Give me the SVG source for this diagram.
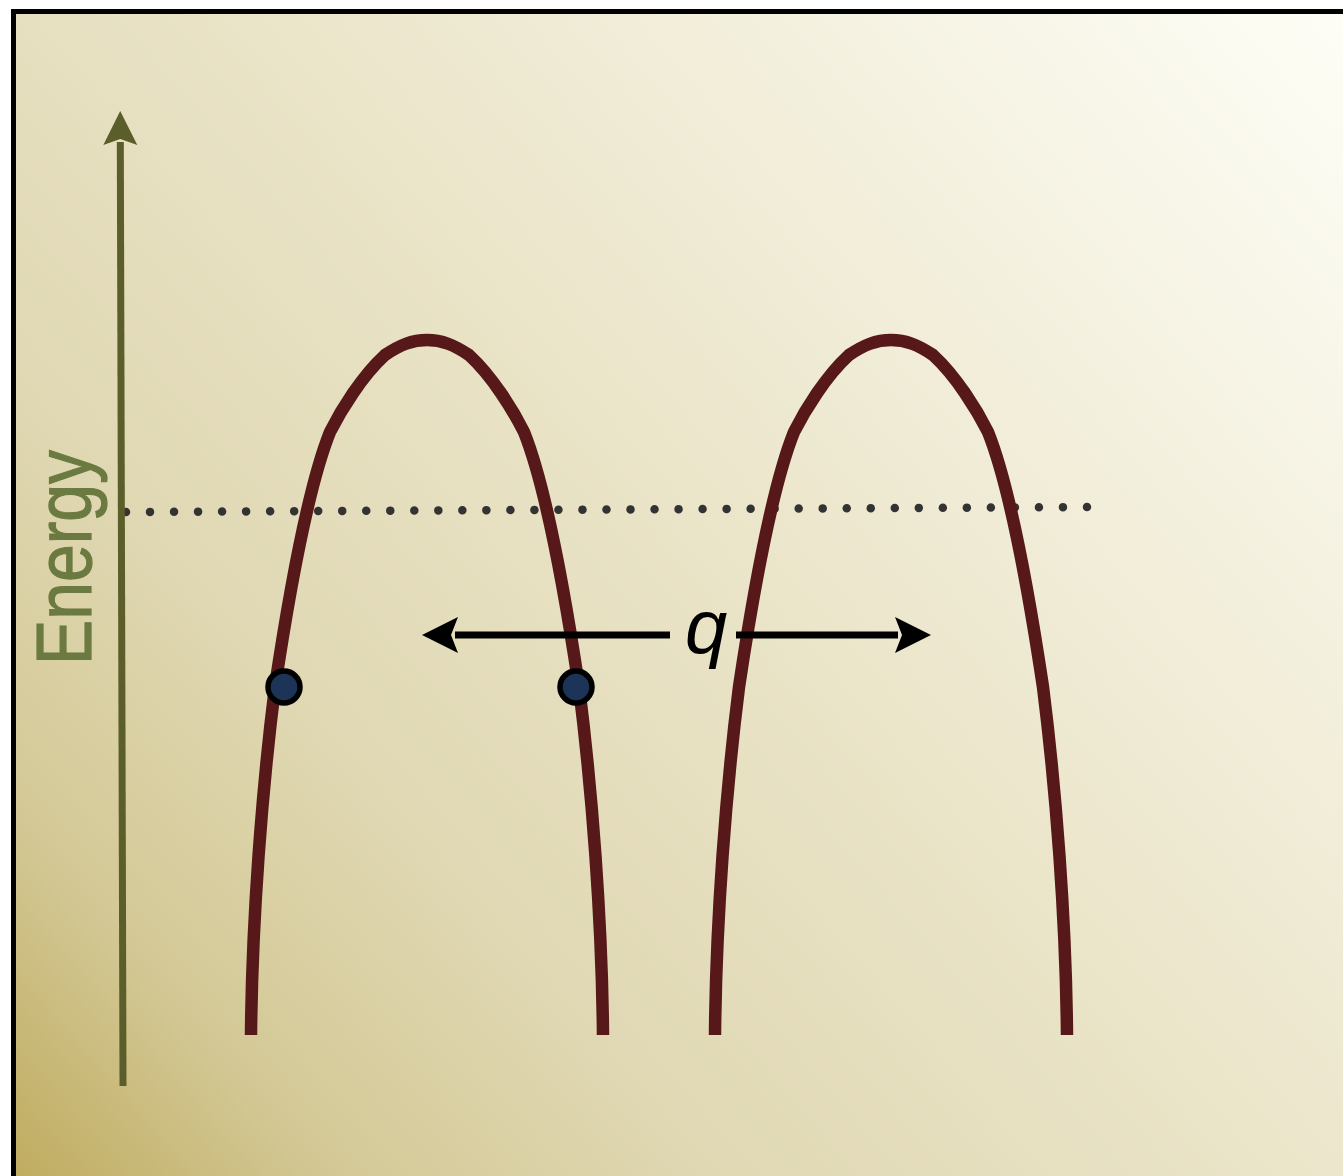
<svg xmlns="http://www.w3.org/2000/svg" width="1343" height="1176" viewBox="0 0 1343 1176">
<defs>
<linearGradient id="bg" gradientUnits="userSpaceOnUse" x1="1343" y1="0" x2="0" y2="1176">
<stop offset="0" stop-color="#fefef7"/>
<stop offset="0.45" stop-color="#ebe5ca"/>
<stop offset="0.7" stop-color="#e0d8b3"/>
<stop offset="0.86" stop-color="#d3c895"/>
<stop offset="1" stop-color="#bfab5e"/>
</linearGradient>
<marker id="ah" markerUnits="userSpaceOnUse" orient="auto" refX="0" refY="0" markerWidth="60" markerHeight="60" overflow="visible">
<path d="M33,0 L-3,-18 L4,0 L-3,18 Z" fill="#000"/>
</marker>
<marker id="axh" markerUnits="userSpaceOnUse" orient="auto" refX="0" refY="0" markerWidth="60" markerHeight="60" overflow="visible">
<path d="M31,0 L-3,-17 L3,0 L-3,17 Z" fill="#5b5e2a"/>
</marker>
<path id="hump" d="M251,1035 C252,920 262,790 275,687 C287,607 306,492 330,432 C341,410 362,376 385,355 C400,345 412,340 427,340 C442,340 454,345 469,355 C492,376 513,410 524,432 C548,492 567,607 579,687 C592,790 602,920 603,1035"/>
</defs>
<style>
.curve{fill:none;stroke:#561818;stroke-width:12.5;stroke-linecap:butt;stroke-linejoin:round}
.dot{fill:#1c3457;stroke:#000;stroke-width:5.5}
.arrow{stroke:#000;stroke-width:7;fill:none}
.lbl{font-family:"Liberation Sans","Open Sans",Arial,sans-serif}
</style>
<rect x="13.5" y="11.5" width="1400" height="1250" fill="url(#bg)" stroke="#000" stroke-width="5"/>
<g id="fermi-level">
<line x1="126" y1="512" x2="1087" y2="507" stroke="#333" stroke-width="8.5" stroke-linecap="round" stroke-dasharray="0 24.025"/>
</g>
<g id="energy-axis">
<line x1="123" y1="1086" x2="120.3" y2="142" stroke="#5b5e2a" stroke-width="7" marker-end="url(#axh)"/>
<text class="lbl" transform="translate(91,665) rotate(-90)" font-size="78" fill="#6b7a40" stroke="#6b7a40" stroke-width="1.2" textLength="215" lengthAdjust="spacingAndGlyphs">Energy</text>
</g>
<g id="band-left">
<use href="#hump" class="curve"/>
</g>
<g id="band-right">
<use href="#hump" class="curve" transform="translate(464,0)"/>
</g>
<g id="connectors">
<line class="arrow" x1="670" y1="635" x2="455" y2="635" marker-end="url(#ah)"/>
<line class="arrow" x1="736" y1="635" x2="898" y2="635" marker-end="url(#ah)"/>
</g>
<g id="q-label">
<text class="lbl" x="685" y="653" font-size="76" font-style="italic" fill="#000">q</text>
</g>
<g id="electron-left">
<circle class="dot" cx="284" cy="687" r="16"/>
</g>
<g id="electron-right">
<circle class="dot" cx="576" cy="687" r="16"/>
</g>
</svg>
